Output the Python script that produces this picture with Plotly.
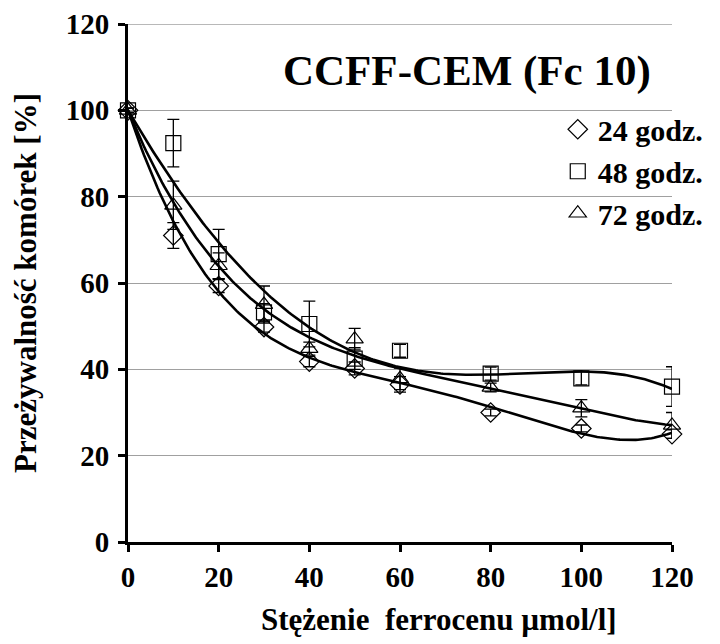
import numpy as np
import plotly.graph_objects as go

# stezenie ferrocenu [umol/l]
conc = [0, 10, 20, 30, 40, 50, 60, 80, 100, 120]

# przezywalnosc [%] i odchylenia
surv_24 = [100, 71, 59.3, 49.8, 41.8, 40.2, 36.5, 30.0, 26.3, 25.0]
err_24 = [0.5, 3.0, 1.5, 1.2, 1.2, 1.5, 1.8, 0.8, 0.8, 1.0]
surv_48 = [100, 92.4, 66.7, 53.2, 50.5, 42.5, 44.3, 39.0, 37.9, 36.0]
err_48 = [0.5, 5.5, 5.7, 2.0, 5.3, 2.5, 1.5, 1.5, 1.5, 4.6]
surv_72 = [100, 78.0, 64.0, 55.0, 44.8, 47.0, 37.8, 35.8, 31.0, 27.0]
err_72 = [0.5, 5.6, 3.0, 4.3, 1.5, 2.5, 2.5, 1.0, 2.0, 3.0]

ticks = [0, 20, 40, 60, 80, 100, 120]

series = [
    ("24 godz.", surv_24, err_24, "diamond-open"),
    ("48 godz.", surv_48, err_48, "square-open"),
    ("72 godz.", surv_72, err_72, "triangle-up-open"),
]

FONT = "Liberation Serif, Times New Roman, serif"
GRID = "#a0a0a0"


def poly_fit(x, y, deg=4, y0=100.0):
    # wielomian z wyrazem wolnym ustawionym na 100 (jak w arkuszu)
    x = np.asarray(x, float)
    A = np.column_stack([x ** k for k in range(1, deg + 1)])
    c, *_ = np.linalg.lstsq(A, np.asarray(y, float) - y0, rcond=None)
    return lambda t: y0 + sum(c[k - 1] * t ** k for k in range(1, deg + 1))


fig = go.Figure()

xs = np.linspace(0, 120, 241)
for name, ys, _, _ in series:
    f = poly_fit(conc, ys)
    fig.add_trace(go.Scatter(x=xs, y=f(xs), mode="lines",
                             line=dict(color="black", width=2.6),
                             showlegend=False, hoverinfo="skip"))

for i, (name, ys, err, sym) in enumerate(series):
    fig.add_trace(go.Scatter(
        x=conc, y=ys, mode="markers", name=name, legendgroup=f"g{i}",
        marker=dict(symbol=sym, size=15, color="black", line=dict(width=1.2, color="black")),
        error_y=dict(type="data", array=err, color="black", thickness=1.3, width=6),
        cliponaxis=False))

# gorna linia siatki (plotly pomija ja na krawedzi)
fig.add_shape(type="line", xref="x", yref="y", x0=ticks[0], x1=ticks[-1],
              y0=ticks[-1], y1=ticks[-1], line=dict(color=GRID, width=1.3), layer="below")

fig.add_annotation(text="<b>CCFF-CEM (Fc 10)</b>", x=0.623, y=0.91, xref="paper", yref="paper",
                   xanchor="center", yanchor="middle",
                   showarrow=False, font=dict(family=FONT, size=43, color="black"))

fig.add_annotation(text="<b>Stężenie\u00a0 ferrocenu µmol/l]</b>", x=0.572, y=-0.15,
                   xref="paper", yref="paper", xanchor="center", yanchor="middle",
                   showarrow=False, font=dict(family=FONT, size=31, color="black"))

# strona ma 8 px marginesu body, wiec figura jest o 8 px mniejsza
fig.update_layout(
    width=712, height=636,
    margin=dict(l=120, r=40, t=16, b=102),
    paper_bgcolor="white", plot_bgcolor="white",
    font=dict(family=FONT, color="black"),
    legend=dict(x=0.79, y=0.847, xanchor="left", yanchor="top",
                font=dict(family=FONT, size=30, weight="bold"),
                itemwidth=30, tracegroupgap=0, bgcolor="rgba(0,0,0,0)"),
)

fig.update_xaxes(range=[0, 120], tickvals=ticks,
                 showgrid=False, zeroline=False, automargin=False,
                 showline=True, linecolor="black", linewidth=3,
                 ticks="outside", ticklen=7, tickwidth=3, tickcolor="black",
                 tickfont=dict(size=29, weight="bold"))
fig.update_yaxes(range=[0, 120], tickvals=ticks,
                 showgrid=True, gridcolor=GRID, gridwidth=1.3, zeroline=False,
                 automargin=False, ticklabelstandoff=3, ticklabeloverflow="allow",
                 showline=True, linecolor="black", linewidth=3,
                 ticks="outside", ticklen=7, tickwidth=3, tickcolor="black",
                 tickfont=dict(size=29, weight="bold"),
                 title=dict(text="<b>Przeżywalność komórek [%]</b>",
                            font=dict(size=31), standoff=20))

fig.write_html("out.html")
